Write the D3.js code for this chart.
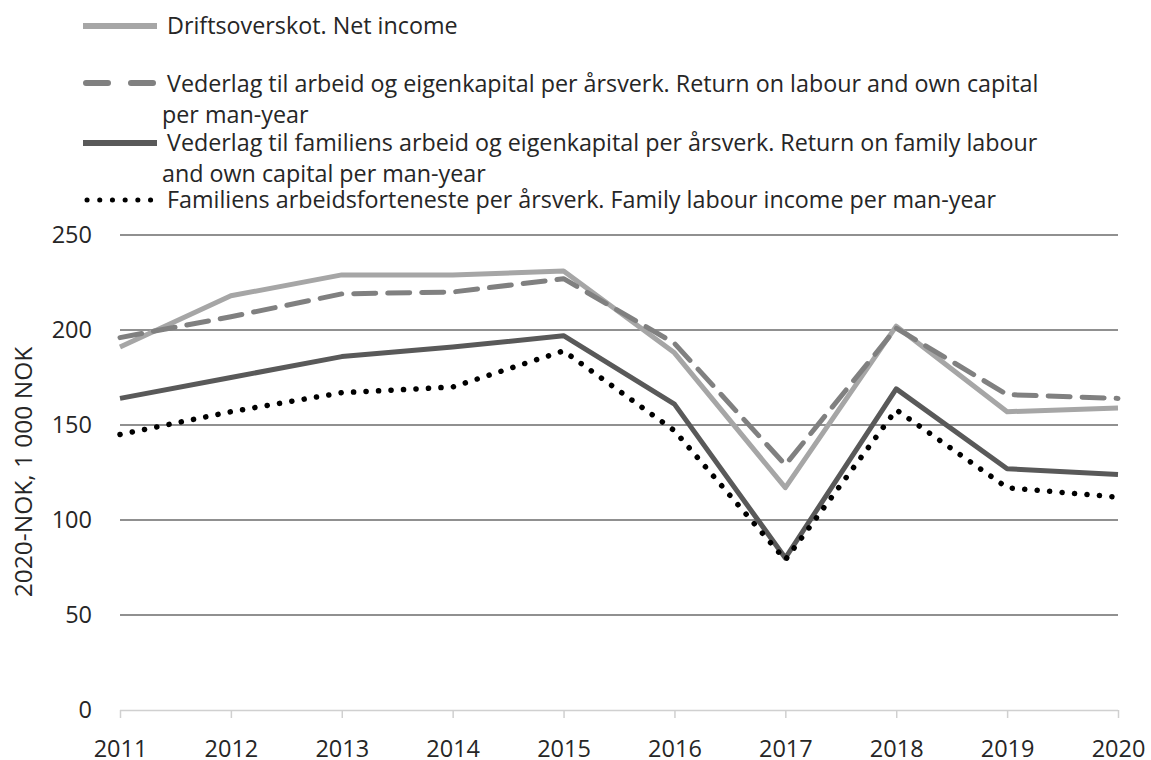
<!DOCTYPE html>
<html>
<head>
<meta charset="utf-8">
<script src="https://cdn.jsdelivr.net/npm/d3@7"></script>
<style>
  body { margin: 0; background: #fff; }
  text { font-family: "Open Sans", "Noto Sans", sans-serif; fill: #262626; }
</style>
</head>
<body>
<div id="chart"></div>
<script>
const years = ["2011", "2012", "2013", "2014", "2015", "2016", "2017", "2018", "2019", "2020"];
const netIncome = [191, 218, 229, 229, 231, 188, 117, 202, 157, 159];
const returnLabourCapital = [196, 207, 219, 220, 227, 193, 129, 201, 166, 164];
const returnFamilyLabour = [164, 175, 186, 191, 197, 161, 80, 169, 127, 124];
const familyLabourIncome = [145, 157, 167, 170, 189, 147, 79, 158, 117, 112];
const yTicks = [0, 50, 100, 150, 200, 250];

const series = [
  { values: netIncome, color: "#a6a6a6", dash: null, cap: "butt",
    label: ["Driftsoverskot. Net income"] },
  { values: returnLabourCapital, color: "#808080", dash: "22 12", cap: "round",
    label: ["Vederlag til arbeid og eigenkapital per årsverk. Return on labour and own capital", "per man-year"] },
  { values: returnFamilyLabour, color: "#595959", dash: null, cap: "butt",
    label: ["Vederlag til familiens arbeid og eigenkapital per årsverk. Return on family labour", "and own capital per man-year"] },
  { values: familyLabourIncome, color: "#000000", dash: "0.1 12.4", cap: "round",
    label: ["Familiens arbeidsforteneste per årsverk. Family labour income per man-year"] }
];

const width = 1151, height = 760;
const svg = d3.select("#chart").append("svg")
  .attr("width", width).attr("height", height);

const x = d3.scalePoint().domain(years).range([120, 1118]);
const y = d3.scaleLinear().domain([0, 250]).range([710, 235]);

// gridlines
svg.append("g")
  .selectAll("line")
  .data(yTicks.filter(d => d > 0))
  .enter().append("line")
  .attr("x1", 120).attr("x2", 1118)
  .attr("y1", d => y(d)).attr("y2", d => y(d))
  .attr("stroke", "#6b6b6b").attr("stroke-width", 1.6);

// y axis labels
const yAxis = svg.append("g")
  .attr("transform", "translate(92,0)")
  .call(d3.axisLeft(y).tickValues(yTicks).tickSize(0).tickPadding(0));
yAxis.select(".domain").remove();
yAxis.selectAll("text")
  .attr("font-size", 23.5).attr("fill", "#262626")
  .style("font-family", "'Open Sans', sans-serif");

// x axis
const xAxis = svg.append("g")
  .attr("transform", `translate(0,${y(0)})`)
  .call(d3.axisBottom(x).tickSize(8).tickPadding(22));
xAxis.select(".domain").attr("stroke", "#d0d0d0").attr("stroke-width", 1.5)
  .attr("d", `M120,0.5H1118`);
xAxis.selectAll(".tick line").attr("stroke", "#d0d0d0").attr("stroke-width", 1.5);
xAxis.selectAll("text")
  .attr("font-size", 23.5).attr("fill", "#262626")
  .style("font-family", "'Open Sans', sans-serif");

// y axis title
svg.append("text")
  .attr("transform", "translate(32,472) rotate(-90)")
  .attr("text-anchor", "middle")
  .attr("font-size", 24.5)
  .text("2020-NOK, 1 000 NOK");

// lines
const line = d3.line()
  .x((d, i) => x(years[i]))
  .y(d => y(d));

series.forEach((s, i) => {
  svg.append("path")
    .datum(s.values)
    .attr("d", line)
    .attr("fill", "none")
    .attr("stroke", s.color)
    .attr("stroke-width", i === 3 ? 5.5 : 5)
    .attr("stroke-linecap", s.cap)
    .attr("stroke-linejoin", "round")
    .attr("stroke-dasharray", s.dash);
});

// legend
const legendY = [26, 83, 143, 200];
const baselines = [[34], [92, 123], [151, 182], [208]];
const legend = svg.append("g");
series.forEach((s, i) => {
  const ly = legendY[i];
  legend.append("line")
    .attr("x1", i === 3 ? 87 : (i === 1 ? 86 : 83)).attr("x2", i === 3 ? 151 : (i === 1 ? 155 : 157))
    .attr("y1", ly).attr("y2", ly)
    .attr("stroke", s.color)
    .attr("stroke-width", i === 3 ? 5 : 6)
    .attr("stroke-linecap", s.cap)
    .attr("stroke-dasharray", i === 1 ? "22 23" : (i === 3 ? "0.1 12.6" : null));
  s.label.forEach((t, j) => {
    legend.append("text")
      .attr("x", j === 0 ? 167 : 162)
      .attr("y", baselines[i][j])
      .attr("font-size", 23.3)
      .text(t);
  });
});
</script>
</body>
</html>
